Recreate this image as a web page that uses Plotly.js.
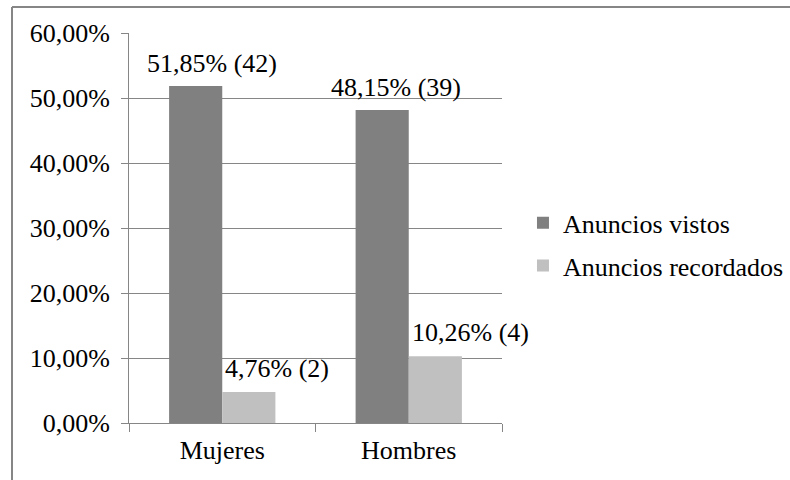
<!DOCTYPE html>
<html>
<head>
<meta charset="utf-8">
<script src="https://cdn.plot.ly/plotly-3.0.1.min.js"></script>
<style>
html,body{margin:0;padding:0;background:#fff;}
#chart{width:790px;height:480px;}
</style>
</head>
<body>
<div id="chart"></div>
<script>
var categories = ["Mujeres", "Hombres"];
var seriesNames = ["Anuncios vistos", "Anuncios recordados"];
var vistosPct = [0.5185, 0.4815];
var vistosCount = [42, 39];
var recordadosPct = [0.0476, 0.1026];
var recordadosCount = [2, 4];
var yTickVals = [0, 0.1, 0.2, 0.3, 0.4, 0.5, 0.6];

var FONT = "Liberation Serif";
var FS = 26;

function fmt(v, n) {
  return (v * 100).toFixed(2).replace('.', ',') + '% (' + n + ')';
}

function draw() {
  var traces = [
    {type: 'bar', name: seriesNames[0], legendgroup: 'a', x: categories, y: vistosPct, marker: {color: '#808080'}, hoverinfo: 'skip'},
    {type: 'bar', name: seriesNames[1], legendgroup: 'b', x: categories, y: recordadosPct, marker: {color: '#c0c0c0'}, hoverinfo: 'skip'}
  ];

  // label horizontal shifts (px, style only)
  var shiftVistos = [-10, -13];
  var shiftRecord = [55, 62];
  var annotations = [];
  categories.forEach(function (c, i) {
    annotations.push({x: c, y: vistosPct[i], xref: 'x', yref: 'y', text: fmt(vistosPct[i], vistosCount[i]),
      showarrow: false, yanchor: 'bottom', xshift: shiftVistos[i], yshift: 6, font: {family: FONT, size: FS, color: '#000'}});
    annotations.push({x: c, y: recordadosPct[i], xref: 'x', yref: 'y', text: fmt(recordadosPct[i], recordadosCount[i]),
      showarrow: false, yanchor: 'bottom', xshift: shiftRecord[i], yshift: 7, font: {family: FONT, size: FS, color: '#000'}});
  });

  var layout = {
    width: 790, height: 480,
    margin: {l: 129, r: 288, t: 33, b: 57},
    paper_bgcolor: '#fff', plot_bgcolor: '#fff',
    font: {family: FONT, size: FS, color: '#000'},
    separators: ', ',
    barmode: 'group', bargap: 0.43, bargroupgap: 0,
    showlegend: true,
    legend: {xref: 'container', x: 0.662, yref: 'paper', y: 0.458, xanchor: 'left', yanchor: 'middle',
      font: {family: FONT, size: FS, color: '#000'},
      itemwidth: 30, traceorder: 'grouped', tracegroupgap: 6, borderwidth: 0, bgcolor: 'rgba(0,0,0,0)'},
    xaxis: {type: 'category', range: [-0.5, 1.5], automargin: false, showline: true, linecolor: '#868686', linewidth: 1,
      ticks: 'outside', ticklen: 8, tickcolor: '#868686', ticklabelstandoff: 4,
      tickson: 'boundaries', showgrid: false, tickfont: {family: FONT, size: FS, color: '#000'}},
    yaxis: {range: [0, 0.6], automargin: false, tickvals: yTickVals, tickformat: '.2%', showline: true, linecolor: '#868686', linewidth: 1,
      ticks: 'outside', ticklen: 7, tickcolor: '#868686', showgrid: true, gridcolor: '#868686', gridwidth: 1, zeroline: false,
      tickfont: {family: FONT, size: FS, color: '#000'}, ticklabelstandoff: 6},
    annotations: annotations,
    shapes: [
      {type: 'line', xref: 'paper', yref: 'paper', x0: (12 - 129) / 373, x1: (800 - 129) / 373, y0: (423 - 7) / 390, y1: (423 - 7) / 390, line: {color: '#868686', width: 2}},
      {type: 'line', xref: 'paper', yref: 'paper', x0: (12 - 129) / 373, x1: (12 - 129) / 373, y0: (423 - 7) / 390, y1: (423 - 490) / 390, line: {color: '#868686', width: 2}}
    ]
  };

  Plotly.newPlot('chart', traces, layout, {displayModeBar: false, staticPlot: true});
}

draw();
</script>
</body>
</html>
